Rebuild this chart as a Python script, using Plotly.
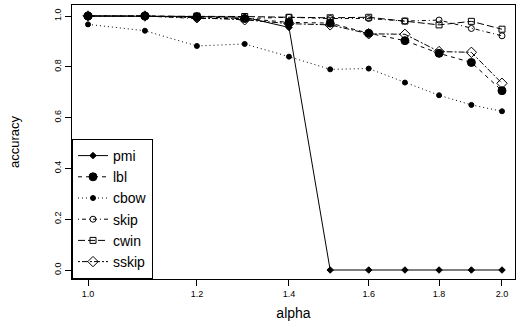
import plotly.graph_objects as go

alpha = [1.0, 1.1, 1.2, 1.3, 1.4, 1.5, 1.6, 1.7, 1.8, 1.9, 2.0]
pmi = [1.0, 1.0, 0.998, 0.995, 0.955, 0.0, 0.0, 0.0, 0.0, 0.0, 0.0]
lbl = [1.0, 1.0, 0.997, 0.99, 0.975, 0.972, 0.932, 0.903, 0.853, 0.817, 0.706]
cbow = [0.967, 0.942, 0.882, 0.89, 0.84, 0.79, 0.793, 0.738, 0.688, 0.65, 0.625]
skip = [1.0, 1.0, 0.99, 0.99, 0.995, 0.99, 0.99, 0.98, 0.984, 0.951, 0.922]
cwin = [1.0, 1.0, 1.0, 0.998, 0.995, 0.993, 0.995, 0.98, 0.965, 0.979, 0.948]
sskip = [1.0, 1.0, 0.993, 0.985, 0.97, 0.965, 0.93, 0.928, 0.86, 0.857, 0.735]

x_ticks = [1.0, 1.2, 1.4, 1.6, 1.8, 2.0]
x_ticklabels = ["1.0", "1.2", "1.4", "1.6", "1.8", "2.0"]
y_ticks = [0.0, 0.2, 0.4, 0.6, 0.8, 1.0]
y_ticklabels = ["0.0", "0.2", "0.4", "0.6", "0.8", "1.0"]

series = [
    ("pmi", pmi, "solid", "diamond", 5),
    ("lbl", lbl, "4px,4px", "circle", 8),
    ("cbow", cbow, "1px,3px", "circle", 5),
    ("skip", skip, "1px,3px,4px,3px", "circle-open", 6),
    ("cwin", cwin, "7px,3px", "square-open", 6),
    ("sskip", sskip, "2px,2px,6px,2px", "diamond-open", 8),
]

fig = go.Figure()
for name, vals, dash, sym, size in series:
    fig.add_trace(go.Scatter(
        x=alpha, y=vals, name=name, mode="lines+markers",
        line=dict(color="black", width=1, dash=dash),
        marker=dict(symbol=sym, size=size, color="black",
                    line=dict(color="black", width=1)),
    ))

fig.update_layout(
    width=517, height=326,
    margin=dict(l=72, r=2, t=5, b=47),
    paper_bgcolor="white", plot_bgcolor="white",
    font=dict(family="Liberation Sans, Arial, sans-serif", color="black"),
    showlegend=True,
    legend=dict(x=0, y=0, xanchor="left", yanchor="bottom",
                bordercolor="black", borderwidth=1, bgcolor="white",
                font=dict(size=14), tracegroupgap=0),
    xaxis=dict(type="log", range=[-0.01164, 0.31049], automargin=False,
               tickvals=x_ticks, ticktext=x_ticklabels,
               ticks="outside", ticklen=6, tickcolor="black",
               tickfont=dict(size=9), showgrid=False, zeroline=False,
               showline=True, linecolor="black", linewidth=1, mirror=True,
               title=dict(text="alpha", font=dict(size=14), standoff=10)),
    yaxis=dict(range=[-0.0354, 1.0433], automargin=False,
               tickvals=y_ticks, ticktext=y_ticklabels, tickangle=-90,
               ticks="outside", ticklen=6, tickcolor="black",
               tickfont=dict(size=9), showgrid=False, zeroline=False,
               showline=True, linecolor="black", linewidth=1, mirror=True,
               title=dict(text="accuracy", font=dict(size=13), standoff=30)),
)

fig.write_html("out.html", config={"displayModeBar": False},
               post_script="document.body.style.margin='0';document.body.style.overflow='hidden';")
